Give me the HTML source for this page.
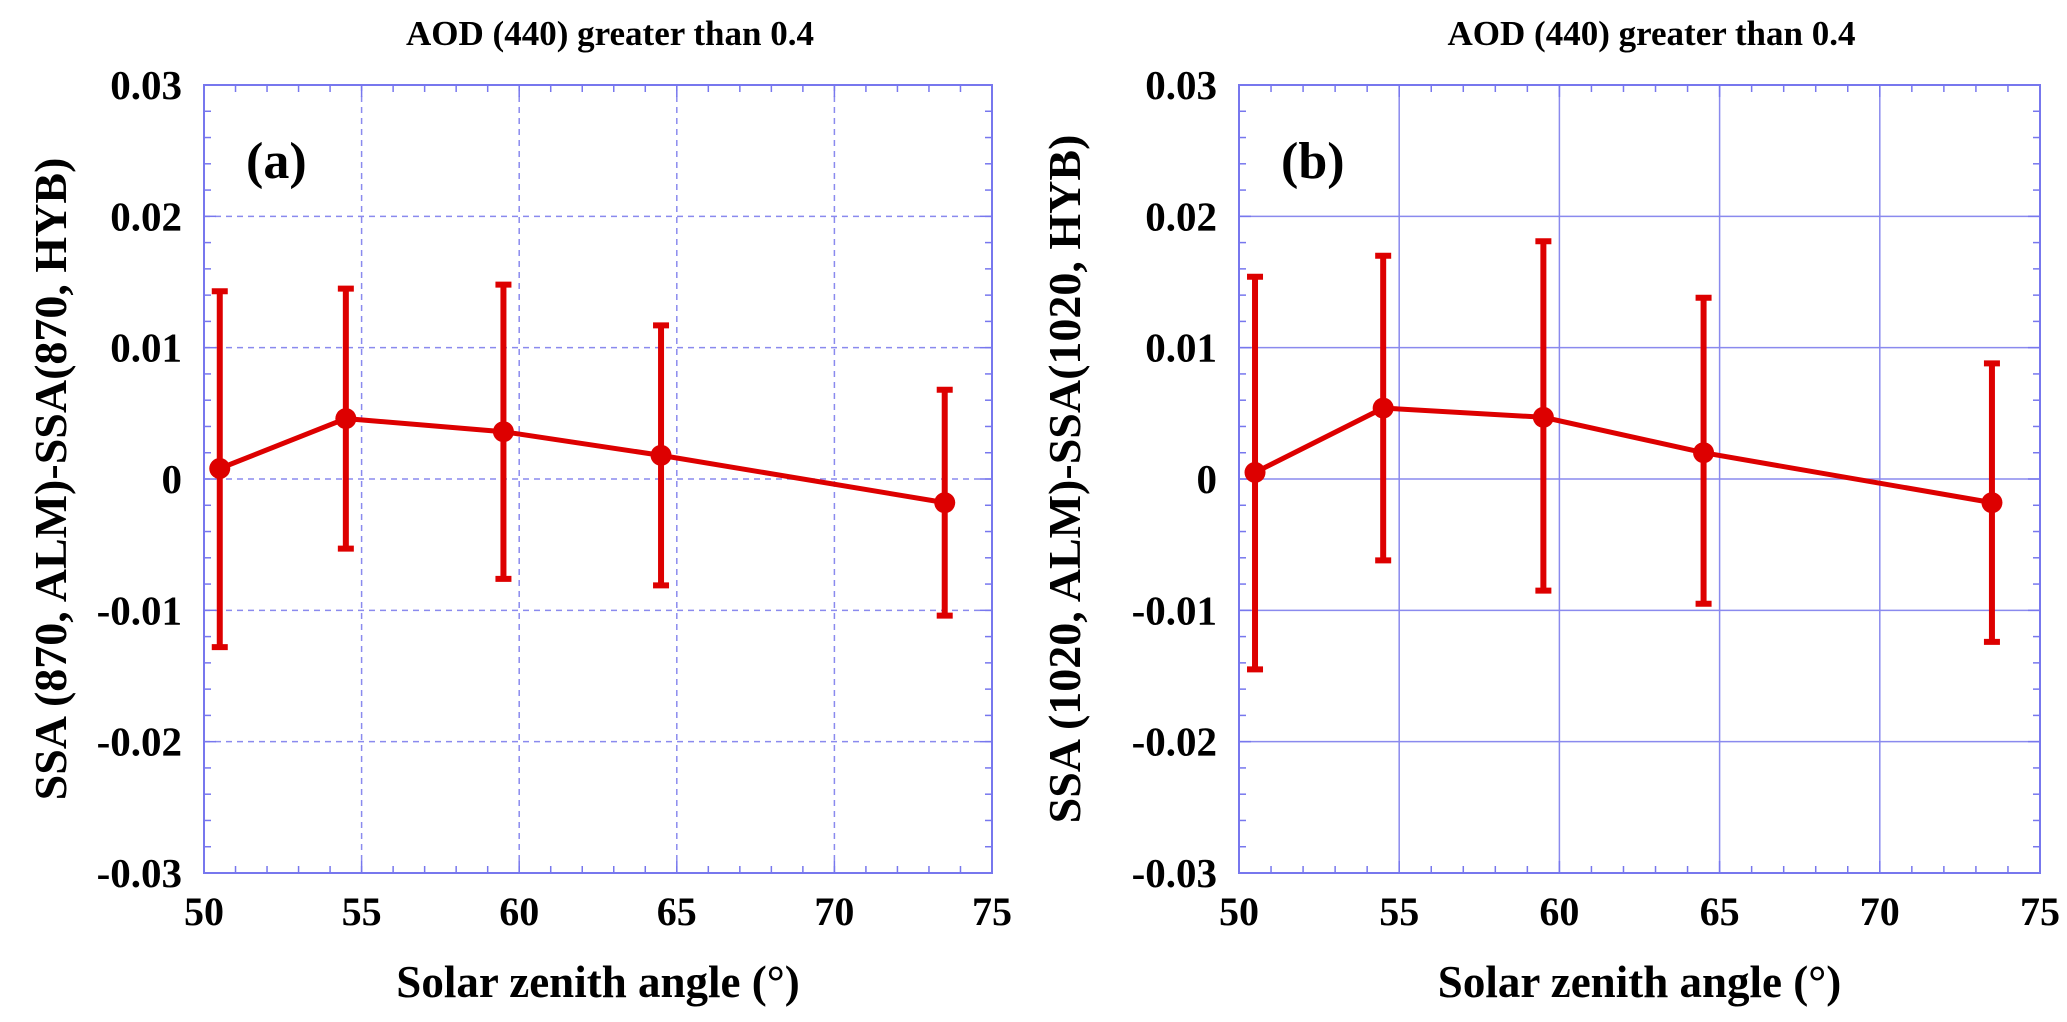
<!DOCTYPE html>
<html><head><meta charset="utf-8"><style>
html,body{margin:0;padding:0;background:#fff}
svg{display:block}
text{font-family:"Liberation Serif",serif;font-weight:bold;fill:#000}
</style></head><body>
<svg id="chart" width="2067" height="1022" viewBox="0 0 2067 1022"></svg>
<script>
const xTicks = [50, 55, 60, 65, 70, 75];
const yTicks = [-0.03, -0.02, -0.01, 0, 0.01, 0.02, 0.03];
const yTickLabels = ["-0.03", "-0.02", "-0.01", "0", "0.01", "0.02", "0.03"];
const angles = [50.5, 54.5, 59.5, 64.5, 73.5];
const ssaA = [0.0008, 0.0046, 0.0036, 0.0018, -0.0018];
const upperA = [0.0143, 0.0145, 0.0148, 0.0117, 0.0068];
const lowerA = [-0.0128, -0.0053, -0.0076, -0.0081, -0.0104];
const ssaB = [0.0005, 0.0054, 0.0047, 0.0020, -0.0018];
const upperB = [0.0154, 0.0170, 0.0181, 0.0138, 0.0088];
const lowerB = [-0.0145, -0.0062, -0.0085, -0.0095, -0.0124];

const NS = "http://www.w3.org/2000/svg";
const svg = document.getElementById("chart");
function mk(tag, attrs, parent) {
  const e = document.createElementNS(NS, tag);
  for (const k in attrs) e.setAttribute(k, attrs[k]);
  (parent || svg).appendChild(e);
  return e;
}
const TOP = 85, BOT = 873;
function drawPanel(opts) {
  const L = opts.left, R = opts.right;
  const g = mk("g", {});
  
  
  const xs = v => L + (v - 50) / 25 * (R - L);
  const ys = v => BOT - (v + 0.03) / 0.06 * (BOT - TOP);
  const gridStyle = {stroke: "#8a8aee", "stroke-width": 1.5};
  if (opts.dashed) gridStyle["stroke-dasharray"] = "6,5";
  xTicks.slice(1, -1).forEach(v => {
    const l = mk("line", Object.assign({x1: xs(v), x2: xs(v), y1: TOP, y2: BOT}, gridStyle), g);
    
    
  });
  yTicks.slice(1, -1).forEach(v => {
    const l = mk("line", Object.assign({x1: L, x2: R, y1: ys(v), y2: ys(v)}, gridStyle), g);
    
    
  });
  for (let v = 50; v <= 75; v += 1) {
    const len = (v % 5 === 0) ? 12 : 7;
    mk("line", {x1: xs(v), x2: xs(v), y1: BOT, y2: BOT - len, stroke: "#7777ee", "stroke-width": 1.5}, g);
    mk("line", {x1: xs(v), x2: xs(v), y1: TOP, y2: TOP + len, stroke: "#7777ee", "stroke-width": 1.5}, g);
  }
  for (let i = 0; i <= 30; i++) {
    const v = -0.03 + i * 0.002;
    const len = (i % 5 === 0) ? 12 : 7;
    mk("line", {x1: L, x2: L + len, y1: ys(v), y2: ys(v), stroke: "#7777ee", "stroke-width": 1.5}, g);
    mk("line", {x1: R, x2: R - len, y1: ys(v), y2: ys(v), stroke: "#7777ee", "stroke-width": 1.5}, g);
  }
  const frame = mk("rect", {x: L, y: TOP, width: R - L, height: BOT - TOP, fill: "none", stroke: "#7777ee", "stroke-width": 2}, g);
  
  
  xTicks.forEach(v => {
    const t = mk("text", {x: xs(v), y: 925, "text-anchor": "middle", "font-size": 40}, g);
    t.textContent = String(v);
    
    
  });
  yTicks.forEach((v, i) => {
    const t = mk("text", {x: L - 22, y: ys(v) + 14, "text-anchor": "end", "font-size": 41}, g);
    t.textContent = yTickLabels[i];
    
    
  });
  const tt = mk("text", {x: (L + R) / 2 + 12, y: 45, "text-anchor": "middle", "font-size": 35}, g);
  tt.textContent = "AOD (440) greater  than 0.4";
  
  
  const xt = mk("text", {x: (L + R) / 2, y: 997, "text-anchor": "middle", "font-size": 45}, g);
  xt.textContent = "Solar zenith angle (°)";
  
  
  const yt = mk("text", {x: 0, y: 0, "text-anchor": "middle", "font-size": 46, transform: `translate(${opts.ytX},${(TOP + BOT) / 2}) rotate(-90)`}, g);
  yt.textContent = opts.ytitle;
  
  
  const pl = mk("text", {x: L + 42, y: 178, "font-size": 52}, g);
  pl.textContent = opts.label;
  
  
  const red = "#dd0000";
  const pts = angles.map((a, i) => xs(a) + "," + ys(opts.vals[i])).join(" ");
  const line = mk("polyline", {points: pts, fill: "none", stroke: red, "stroke-width": 5}, g);
  
  
  angles.forEach((a, i) => {
    const x = xs(a), yu = ys(opts.up[i]), yl = ys(opts.lo[i]);
    const eb = mk("path", {d: `M${x},${yu}V${yl}M${x - 8},${yu}H${x + 8}M${x - 8},${yl}H${x + 8}`, stroke: red, "stroke-width": 6, fill: "none"}, g);
    
    
    const c = mk("circle", {cx: x, cy: ys(opts.vals[i]), r: 10.5, fill: red}, g);
    
    
  });
}
drawPanel({name: "panel-a", left: 204, right: 992, dashed: true, vals: ssaA, up: upperA, lo: lowerA, label: "(a)", ytX: 66, ytitle: "SSA (870, ALM)-SSA(870, HYB)"});
drawPanel({name: "panel-b", left: 1239, right: 2040, dashed: false, vals: ssaB, up: upperB, lo: lowerB, label: "(b)", ytX: 1080, ytitle: "SSA (1020, ALM)-SSA(1020, HYB)"});
</script>
</body></html>
